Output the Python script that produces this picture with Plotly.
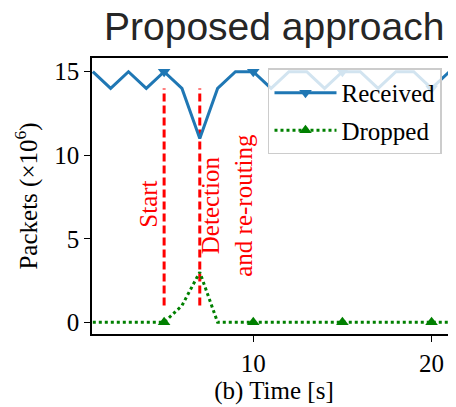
import plotly.graph_objects as go

# ---- data ----
time = list(range(1, 23))
received = [15, 14, 15, 14, 15, 14, 11, 14, 15, 15, 14, 15, 15, 14, 15, 15, 14, 15, 15, 14, 15, 15]
dropped = [0, 0, 0, 0, 0, 1.0, 3.0, 0, 0, 0, 0, 0, 0, 0, 0, 0, 0, 0, 0, 0, 0, 0]
marker_times = [5, 10, 15, 20]
event_times = [5, 7]
event_span = [1, 14]
event_labels = ["Start", "Detection<br>and re-routing"]
event_label_x = [4.15, 8.55]
event_label_y = [7.1, 7.0]
y_ticks = [0, 5, 10, 15]
x_ticks = [10, 20]

BLUE = "#1f77b4"
GREEN = "#008000"
RED = "#ff0000"
SERIF = "Liberation Serif"
FS = 25

fig = go.Figure()

# event lines
for t in event_times:
    fig.add_trace(go.Scatter(x=[t, t], y=event_span, mode="lines",
                             line=dict(color=RED, width=3, dash="8px,4px"),
                             showlegend=False, hoverinfo="skip"))

# received
fig.add_trace(go.Scatter(x=time, y=received, mode="lines",
                         line=dict(color=BLUE, width=3), showlegend=False))
mr = [received[time.index(t)] for t in marker_times]
fig.add_trace(go.Scatter(x=marker_times, y=mr, mode="markers",
                         marker=dict(symbol="triangle-down", size=11, color=BLUE),
                         showlegend=False))
# dropped
fig.add_trace(go.Scatter(x=time, y=dropped, mode="lines",
                         line=dict(color=GREEN, width=3, dash="dot"), showlegend=False))
md = [dropped[time.index(t)] for t in marker_times]
fig.add_trace(go.Scatter(x=marker_times, y=md, mode="markers",
                         marker=dict(symbol="triangle-up", size=11, color=GREEN),
                         showlegend=False))

# legend entries
fig.add_trace(go.Scatter(x=[None], y=[None], mode="lines+markers", name="Received",
                         legendgroup="r",
                         line=dict(color=BLUE, width=3),
                         marker=dict(symbol="triangle-down", size=11, color=BLUE)))
fig.add_trace(go.Scatter(x=[None], y=[None], mode="lines+markers", name="Dropped",
                         legendgroup="d",
                         line=dict(color=GREEN, width=3, dash="dot"),
                         marker=dict(symbol="triangle-up", size=11, color=GREEN)))

for lx, ly, txt in zip(event_label_x, event_label_y, event_labels):
    fig.add_annotation(x=lx, y=ly, text=txt, showarrow=False, textangle=-90,
                       align="center", font=dict(family=SERIF, size=FS, color=RED))

fig.add_annotation(x=0.5, y=1.0, xref="paper", yref="paper", yanchor="bottom",
                   yshift=8, text="Proposed approach", showarrow=False,
                   font=dict(family="Liberation Sans", size=39, color="#262626"))

# page body has an 8px margin, so the figure is shrunk by that amount
fig.update_layout(
    width=448, height=399,
    margin=dict(l=84, r=0, t=50, b=73),
    plot_bgcolor="white", paper_bgcolor="white",
    font=dict(family=SERIF, size=FS, color="black"),
    legend=dict(x=0.4835, y=0.962, xanchor="left", yanchor="top",
                bgcolor="rgba(255,255,255,0.8)", bordercolor="#cccccc", borderwidth=1.5,
                font=dict(family=SERIF, size=FS, color="black"),
                itemwidth=62, tracegroupgap=2),
)
fig.update_xaxes(range=[0.955, 21.37], tickvals=x_ticks, ticks="outside", ticklen=6,
                 tickwidth=1.3, tickcolor="black", showline=True, linecolor="black",
                 linewidth=1.5, mirror=True, showgrid=False, zeroline=False,
                 title=dict(text="(b) Time [s]", standoff=2,
                            font=dict(family=SERIF, size=FS)))
fig.update_yaxes(range=[-0.70, 15.82], tickvals=y_ticks, ticks="outside", ticklen=6,
                 tickwidth=1.3, tickcolor="black", showline=True, linecolor="black",
                 linewidth=1.5, showgrid=False, zeroline=False,
                 title=dict(text="Packets (×10<sup>6</sup>)", standoff=10,
                            font=dict(family=SERIF, size=FS)))

fig.write_html("out.html")
